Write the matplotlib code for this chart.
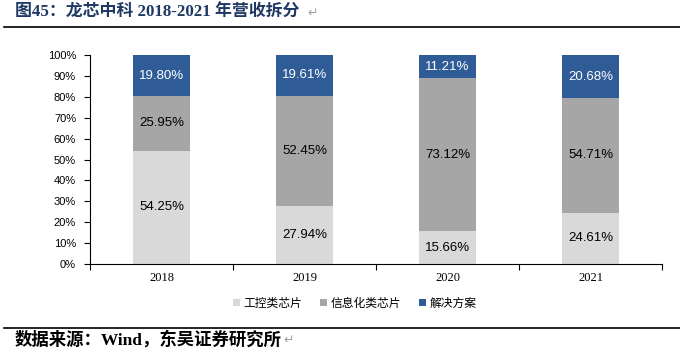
import matplotlib
matplotlib.use('Agg')
import matplotlib.pyplot as plt
from matplotlib.patches import Patch
from matplotlib.lines import Line2D
import numpy as np

years = ['2018', '2019', '2020', '2021']
gongkong = [54.25, 27.94, 15.66, 24.61]   # 工控类芯片
xinxi = [25.95, 52.45, 73.12, 54.71]      # 信息化类芯片
jiejue = [19.80, 19.61, 11.21, 20.68]     # 解决方案
series_names = ['工控类芯片', '信息化类芯片', '解决方案']
colors = ['#D9D9D9', '#A6A6A6', '#2F5C97']
label_colors = ['black', 'black', 'white']

cjk = ['Noto Sans CJK SC', 'DejaVu Sans']
plt.rcParams['font.family'] = ['Liberation Sans', 'Noto Sans CJK SC', 'DejaVu Sans']

fig = plt.figure(figsize=(6.8, 3.53), dpi=100)
ax = fig.add_axes([90/680, 1-264/353, 572/680, 209/353])

x = np.arange(len(years))
bottom = np.zeros(len(years))
for vals, c, lc in zip([gongkong, xinxi, jiejue], colors, label_colors):
    vals = np.array(vals)
    ax.bar(x, vals, 0.4, bottom=bottom, color=c, edgecolor='none')
    for xi, b, v in zip(x, bottom, vals):
        ax.text(xi, b + v/2, '%.2f%%' % v, ha='center', va='center',
                fontsize=9.5, color=lc)
    bottom += vals

ax.set_xlim(-0.5, 3.5)
ax.set_ylim(0, 100)
ax.set_yticks(np.arange(0, 101, 10))
ax.set_yticklabels(['%d%%' % v for v in range(0, 101, 10)], fontsize=8)
ax.set_xticks(x)
ax.set_xticklabels(years, fontsize=9, family='Liberation Serif')
ax.set_xticks(np.arange(-0.5, 3.6, 1), minor=True)
ax.tick_params(axis='x', which='major', length=0, pad=6)
ax.tick_params(axis='x', which='minor', length=4, direction='out', width=0.8)
ax.tick_params(axis='y', length=4, direction='out', width=0.8, pad=6)
for s in ['top', 'right']:
    ax.spines[s].set_visible(False)
for s in ['left', 'bottom']:
    ax.spines[s].set_linewidth(0.8)

handles = [Patch(facecolor=c, edgecolor='none') for c in colors]
fig.legend(handles, series_names, loc='center', bbox_to_anchor=(355/680, 1-303/353),
           ncol=3, frameon=False, prop={'family': cjk, 'size': 8.5},
           handlelength=0.6, handleheight=0.6, handletextpad=0.3, columnspacing=1.5)

# title and footer with rules
fig.text(15/680, 1-13/353, '图45：龙芯中科 2018-2021 年营收拆分', fontsize=12.2, fontweight='bold',
         color='#1F3864', family=['Liberation Serif', 'Noto Sans CJK SC'], va='center')
fig.text(307/680, 1-13/353, '↵', fontsize=9, color='#A0A0A0', va='center', family='DejaVu Sans')
fig.add_artist(Line2D([4/680, 1], [1-27/353, 1-27/353], color='black', lw=1.2))
fig.add_artist(Line2D([4/680, 1], [1-328/353, 1-328/353], color='black', lw=1.2))
fig.text(15/680, 1-340/353, '数据来源：Wind，东吴证券研究所', fontsize=12.5, fontweight='bold',
         color='black', family=['Liberation Serif', 'Noto Sans CJK SC'], va='center')
fig.text(283/680, 1-340/353, '↵', fontsize=9, color='#A0A0A0', va='center', family='DejaVu Sans')

fig.savefig('out.png', dpi=100)
